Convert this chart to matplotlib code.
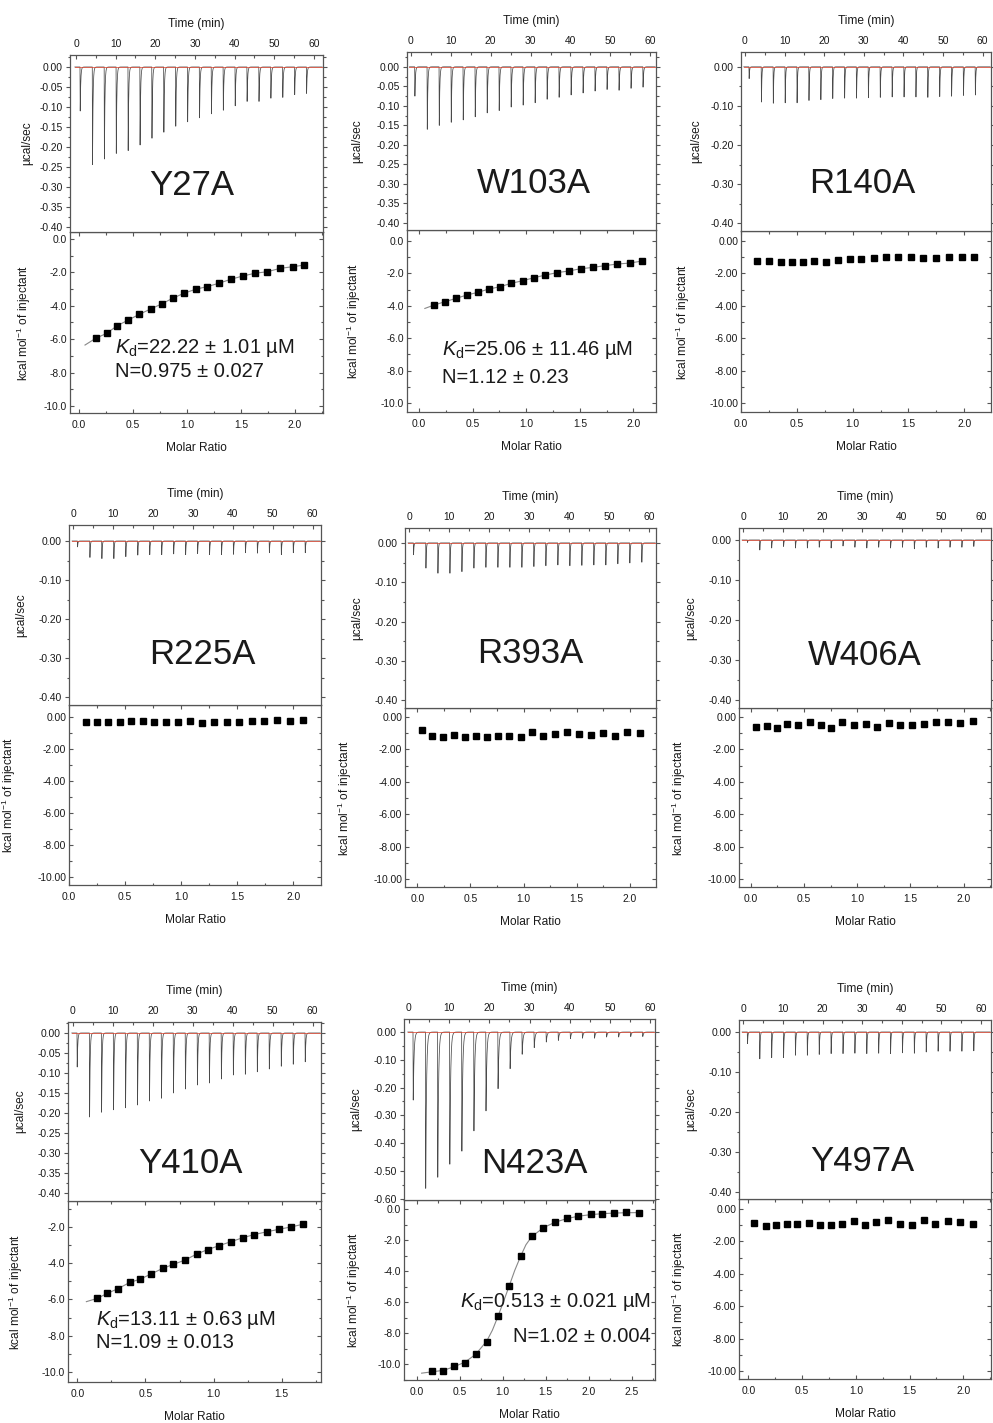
import numpy as np
import matplotlib
matplotlib.use('Agg')
import matplotlib.pyplot as plt
from matplotlib.ticker import MultipleLocator, FormatStrFormatter

plt.rcParams['font.family'] = ['Liberation Sans', 'DejaVu Sans']
plt.rcParams['axes.unicode_minus'] = False
plt.rcParams['mathtext.fontset'] = 'custom'
plt.rcParams['mathtext.rm'] = 'Liberation Sans'
plt.rcParams['mathtext.it'] = 'Liberation Sans:italic'
plt.rcParams['mathtext.default'] = 'regular'

# ---------------- data ----------------
mutants = ['Y27A', 'W103A', 'R140A', 'R225A', 'R393A', 'W406A', 'Y410A', 'N423A', 'Y497A']

injection_times = [1.0, 4.1, 7.1, 10.1, 13.1, 16.1, 19.1, 22.1, 25.1, 28.1,
                   31.1, 34.1, 37.1, 40.1, 43.1, 46.1, 49.1, 52.1, 55.1, 58.1]

# raw thermogram peak depths (ucal/sec)
y27a_peaks = [-0.110, -0.244, -0.230, -0.216, -0.209, -0.195, -0.178, -0.163, -0.148, -0.137,
              -0.127, -0.117, -0.108, -0.097, -0.086, -0.086, -0.078, -0.076, -0.069, -0.066]
w103a_peaks = [-0.075, -0.160, -0.150, -0.142, -0.136, -0.128, -0.118, -0.112, -0.103, -0.098,
               -0.092, -0.083, -0.078, -0.072, -0.067, -0.062, -0.058, -0.060, -0.055, -0.052]
r140a_peaks = [-0.030, -0.090, -0.093, -0.092, -0.092, -0.086, -0.084, -0.081, -0.080, -0.080,
               -0.079, -0.078, -0.077, -0.077, -0.077, -0.078, -0.076, -0.075, -0.073, -0.072]
r225a_peaks = [-0.015, -0.042, -0.045, -0.045, -0.040, -0.036, -0.035, -0.035, -0.033, -0.035,
               -0.032, -0.035, -0.035, -0.034, -0.030, -0.031, -0.030, -0.035, -0.030, -0.030]
r393a_peaks = [-0.030, -0.064, -0.077, -0.077, -0.073, -0.064, -0.062, -0.062, -0.062, -0.062,
               -0.060, -0.058, -0.056, -0.058, -0.057, -0.056, -0.056, -0.053, -0.051, -0.049]
w406a_peaks = [-0.006, -0.025, -0.020, -0.016, -0.020, -0.020, -0.018, -0.020, -0.015, -0.018,
               -0.020, -0.018, -0.020, -0.018, -0.022, -0.018, -0.020, -0.018, -0.018, -0.016]
y410a_peaks = [-0.085, -0.210, -0.198, -0.192, -0.187, -0.180, -0.170, -0.163, -0.150, -0.140,
               -0.130, -0.125, -0.115, -0.105, -0.103, -0.097, -0.090, -0.083, -0.078, -0.072]
n423a_peaks = [-0.245, -0.563, -0.523, -0.476, -0.429, -0.356, -0.284, -0.204, -0.132, -0.080,
               -0.056, -0.036, -0.030, -0.024, -0.022, -0.022, -0.018, -0.018, -0.016, -0.016]
y497a_peaks = [-0.029, -0.067, -0.064, -0.064, -0.058, -0.058, -0.056, -0.054, -0.054, -0.053,
               -0.054, -0.053, -0.054, -0.052, -0.053, -0.050, -0.048, -0.048, -0.048, -0.047]

# integrated heats (kcal/mol of injectant) vs molar ratio
y27a_ratio = [0.154, 0.256, 0.355, 0.457, 0.559, 0.664, 0.765, 0.867, 0.972, 1.080,
              1.188, 1.296, 1.407, 1.515, 1.630, 1.744, 1.861, 1.978, 2.086]
y27a_heat = [-5.95, -5.65, -5.19, -4.85, -4.51, -4.19, -3.89, -3.55, -3.25, -3.01,
             -2.85, -2.65, -2.41, -2.22, -2.05, -1.96, -1.76, -1.66, -1.56]
y27a_fit_x = [0.056] + y27a_ratio
y27a_fit_y = [-6.35] + y27a_heat

w103a_ratio = [0.140, 0.244, 0.344, 0.447, 0.547, 0.653, 0.756, 0.859, 0.966, 1.075,
               1.178, 1.288, 1.397, 1.506, 1.622, 1.731, 1.850, 1.966, 2.084]
w103a_heat = [-3.95, -3.74, -3.54, -3.33, -3.17, -2.96, -2.82, -2.61, -2.45, -2.26,
              -2.10, -1.95, -1.85, -1.71, -1.63, -1.52, -1.42, -1.36, -1.23]
w103a_fit_x = [0.054] + w103a_ratio
w103a_fit_y = [-4.16] + w103a_heat

r140a_ratio = [0.146, 0.250, 0.354, 0.455, 0.557, 0.655, 0.765, 0.869, 0.973, 1.077,
               1.190, 1.300, 1.408, 1.524, 1.634, 1.747, 1.866, 1.976, 2.089]
r140a_heat = [-1.21, -1.21, -1.30, -1.28, -1.28, -1.21, -1.28, -1.17, -1.13, -1.13,
              -1.03, -0.97, -0.97, -0.97, -1.03, -1.07, -0.97, -0.97, -1.00]

r225a_ratio = [0.152, 0.253, 0.350, 0.455, 0.554, 0.658, 0.759, 0.866, 0.976, 1.080,
               1.185, 1.295, 1.410, 1.520, 1.630, 1.740, 1.855, 1.970, 2.086]
r225a_heat = [-0.30, -0.30, -0.32, -0.32, -0.25, -0.28, -0.32, -0.33, -0.33, -0.27,
              -0.37, -0.32, -0.32, -0.30, -0.28, -0.25, -0.20, -0.25, -0.20]

r393a_ratio = [0.047, 0.141, 0.245, 0.345, 0.448, 0.549, 0.652, 0.762, 0.865, 0.972,
               1.075, 1.185, 1.298, 1.404, 1.517, 1.630, 1.743, 1.859, 1.975, 2.094]
r393a_heat = [-0.83, -1.20, -1.24, -1.12, -1.26, -1.14, -1.26, -1.16, -1.14, -1.26,
              -0.93, -1.16, -1.05, -0.93, -1.05, -1.09, -0.99, -1.16, -0.93, -1.01]

w406a_ratio = [0.050, 0.150, 0.250, 0.346, 0.446, 0.555, 0.658, 0.758, 0.861, 0.970,
               1.080, 1.189, 1.298, 1.401, 1.513, 1.626, 1.741, 1.853, 1.969, 2.084]
w406a_heat = [-0.62, -0.54, -0.68, -0.41, -0.48, -0.31, -0.48, -0.68, -0.33, -0.50,
              -0.43, -0.62, -0.37, -0.48, -0.52, -0.43, -0.31, -0.33, -0.37, -0.27]

y410a_ratio = [0.145, 0.218, 0.299, 0.385, 0.461, 0.539, 0.625, 0.703, 0.789, 0.875,
               0.956, 1.042, 1.125, 1.213, 1.299, 1.390, 1.480, 1.569, 1.659]
y410a_heat = [-5.94, -5.67, -5.40, -5.06, -4.88, -4.60, -4.29, -4.07, -3.83, -3.50,
              -3.25, -3.03, -2.82, -2.60, -2.42, -2.27, -2.13, -2.00, -1.85]
y410a_fit_x = [0.066] + y410a_ratio
y410a_fit_y = [-6.12] + y410a_heat

n423a_ratio = [0.182, 0.310, 0.434, 0.562, 0.686, 0.814, 0.942, 1.074, 1.209, 1.337,
               1.473, 1.609, 1.744, 1.880, 2.027, 2.159, 2.298, 2.434, 2.589]
n423a_heat = [-10.45, -10.41, -10.11, -9.89, -9.35, -8.56, -6.90, -4.97, -3.03, -1.74,
              -1.25, -0.82, -0.60, -0.43, -0.32, -0.32, -0.24, -0.22, -0.24]
n423a_fit_x = [0.058, 0.182, 0.310, 0.434, 0.562, 0.686, 0.814, 0.88, 0.942, 1.01, 1.074,
               1.14, 1.209, 1.27, 1.337, 1.473, 1.609, 1.744, 1.880, 2.027, 2.159, 2.298, 2.434, 2.589]
n423a_fit_y = [-10.56, -10.47, -10.38, -10.15, -9.85, -9.35, -8.50, -7.80, -6.95, -5.95, -4.97,
               -3.95, -3.03, -2.30, -1.78, -1.20, -0.85, -0.62, -0.46, -0.36, -0.30, -0.26, -0.24, -0.23]

y497a_ratio = [0.056, 0.164, 0.257, 0.355, 0.457, 0.563, 0.665, 0.767, 0.872, 0.980,
               1.082, 1.190, 1.300, 1.406, 1.520, 1.632, 1.740, 1.858, 1.972, 2.087]
y497a_heat = [-0.87, -1.03, -0.97, -0.91, -0.93, -0.87, -1.01, -0.97, -0.91, -0.76,
              -0.97, -0.80, -0.70, -0.91, -0.97, -0.70, -0.93, -0.76, -0.80, -0.91]

y27a_text = [r'$\mathit{K}_\mathrm{d}$=22.22 ± 1.01 µM', 'N=0.975 ± 0.027']
w103a_text = [r'$\mathit{K}_\mathrm{d}$=25.06 ± 11.46 µM', 'N=1.12 ± 0.23']
y410a_text = [r'$\mathit{K}_\mathrm{d}$=13.11 ± 0.63 µM', 'N=1.09 ± 0.013']
n423a_text = [r'$\mathit{K}_\mathrm{d}$=0.513 ± 0.021 µM', 'N=1.02 ± 0.004']

# ---------------- layout / style ----------------
W, H = 993, 1423
fig = plt.figure(figsize=(W / 100, H / 100), dpi=100)

panels = [
    dict(peaks=y27a_peaks, ratio=y27a_ratio, heat=y27a_heat, fx=y27a_fit_x, fy=y27a_fit_y, txt=y27a_text),
    dict(peaks=w103a_peaks, ratio=w103a_ratio, heat=w103a_heat, fx=w103a_fit_x, fy=w103a_fit_y, txt=w103a_text),
    dict(peaks=r140a_peaks, ratio=r140a_ratio, heat=r140a_heat, fx=None, fy=None, txt=None),
    dict(peaks=r225a_peaks, ratio=r225a_ratio, heat=r225a_heat, fx=None, fy=None, txt=None),
    dict(peaks=r393a_peaks, ratio=r393a_ratio, heat=r393a_heat, fx=None, fy=None, txt=None),
    dict(peaks=w406a_peaks, ratio=w406a_ratio, heat=w406a_heat, fx=None, fy=None, txt=None),
    dict(peaks=y410a_peaks, ratio=y410a_ratio, heat=y410a_heat, fx=y410a_fit_x, fy=y410a_fit_y, txt=y410a_text),
    dict(peaks=n423a_peaks, ratio=n423a_ratio, heat=n423a_heat, fx=n423a_fit_x, fy=n423a_fit_y, txt=n423a_text),
    dict(peaks=y497a_peaks, ratio=y497a_ratio, heat=y497a_heat, fx=None, fy=None, txt=None),
]

# pixel boxes: left, right, top, mid, bottom
boxes = [
    (70, 323, 55, 232, 413), (407, 656, 52, 230, 412), (741, 991, 52, 231, 412),
    (69, 321, 525, 705, 885), (405, 656, 528, 708, 887), (739, 991, 528, 708, 887),
    (68, 321, 1022, 1201, 1382), (404, 655, 1019, 1200, 1380), (739, 991, 1020, 1199, 1379),
]
time_lims = [(-1.52, 62.3), (-0.92, 61.4), (-1.0, 62.1), (-1.09, 62.1), (-1.08, 61.7),
             (-1.09, 62.5), (-1.25, 62.1), (-1.24, 61.2), (-1.09, 62.5)]
top_ylims = [(-0.4125, 0.03), (-0.418, 0.038), (-0.42, 0.038), (-0.42, 0.041), (-0.42, 0.038),
             (-0.42, 0.03), (-0.42, 0.0275), (-0.605, 0.047), (-0.4175, 0.03)]
top_major = [0.05, 0.05, 0.1, 0.1, 0.1, 0.1, 0.05, 0.1, 0.1]
ratio_lims = [(-0.083, 2.26), (-0.1125, 2.21), (0.0, 2.24), (0.0, 2.247), (-0.116, 2.245),
              (-0.109, 2.256), (-0.069, 1.789), (-0.147, 2.77), (-0.087, 2.257)]
bot_ylims = [(-10.42, 0.42), (-10.55, 0.68), (-10.56, 0.62), (-10.5, 0.75), (-10.5, 0.56),
             (-10.5, 0.56), (-10.55, -0.57), (-11.0, 0.58), (-10.5, 0.62)]
bot_fmt = ['%.1f', '%.1f', '%.2f', '%.2f', '%.2f', '%.2f', '%.1f', '%.1f', '%.2f']
name_pos = [(0.48, 0.265), (0.51, 0.264), (0.486, 0.264), (0.53, 0.278), (0.498, 0.305),
            (0.498, 0.294), (0.482, 0.212), (0.52, 0.204), (0.489, 0.207)]
# distance (px) from the axes' left edge to the centre of the y labels
ulabel_off = [42, 49, 44, 47, 47, 47, 47, 47, 47]
klabel_off = [42, 49, 54, 56, 56, 56, 48, 46, 56]
peak_tau = [0.13, 0.13, 0.1, 0.1, 0.1, 0.1, 0.13, 0.2, 0.1]
# annotation: (x, y of line1, y of line2, ha)
text_pos = [(0.33, -6.5, -7.95, 'left'), (0.21, -6.7, -8.4, 'left'), None, None, None, None,
            (0.14, -7.13, -8.39, 'left'), (2.72, -6.0, -8.2, 'right'), None]

INK = '#1a1a1a'
SPINE = '#555555'
TICKFS = 7.4
LABFS = 8.6
NAMEFS = 25
ANNFS = 14.5


def style_axis(ax):
    for s in ax.spines.values():
        s.set_color(SPINE)
        s.set_linewidth(0.9)
    ax.tick_params(which='both', colors=SPINE, labelcolor=INK, labelsize=TICKFS, width=0.8)
    ax.tick_params(which='major', length=3.0, pad=2)
    ax.tick_params(which='minor', length=1.8)


for i, p in enumerate(panels):
    l, r, t, m, b = boxes[i]
    w = r - l
    ax1 = fig.add_axes([l / W, 1 - m / H, w / W, (m - t) / H])
    ax2 = fig.add_axes([l / W, 1 - b / H, w / W, (b - m) / H])

    # ---- thermogram ----
    tt = np.arange(-0.3, time_lims[i][1] - 0.2, 0.01)
    sig = np.zeros_like(tt)
    tau = peak_tau[i]
    for t0, d in zip(injection_times, p['peaks']):
        dt = tt - t0
        rise = (dt >= 0) & (dt < 0.06)
        sig[rise] += d * dt[rise] / 0.06
        dec = dt >= 0.06
        sig[dec] += d * np.exp(-(dt[dec] - 0.06) / tau)
    ax1.plot(tt, sig, color='#4a4a4a', lw=0.55, zorder=2)
    ax1.plot([tt[0], tt[-1]], [0, 0], color='#e0452f', lw=0.7, alpha=0.75, zorder=3)
    ax1.set_xlim(*time_lims[i])
    ax1.set_ylim(*top_ylims[i])
    style_axis(ax1)
    ax1.xaxis.set_major_locator(MultipleLocator(10))
    ax1.xaxis.set_minor_locator(MultipleLocator(5))
    ax1.yaxis.set_major_locator(MultipleLocator(top_major[i]))
    ax1.yaxis.set_minor_locator(MultipleLocator(top_major[i] / 2))
    ax1.yaxis.set_major_formatter(FormatStrFormatter('%.2f'))
    ax1.tick_params(axis='x', which='both', top=True, bottom=False, labeltop=True,
                    labelbottom=False, direction='in')
    ax1.tick_params(axis='x', which='major', pad=4)
    ax1.tick_params(axis='y', which='both', right=True, direction='in')
    ax1.tick_params(axis='y', which='both', left=True, direction='out')
    ax1.set_xlabel('Time (min)', fontsize=LABFS, color=INK)
    ax1.xaxis.set_label_position('top')
    ax1.xaxis.set_label_coords(0.5, 1 + 28 / (m - t))
    ax1.set_ylabel('µcal/sec', fontsize=LABFS, color=INK)
    ax1.yaxis.set_label_coords(-(ulabel_off[i] - 5) / w, 0.5)
    ax1.text(name_pos[i][0], name_pos[i][1], mutants[i], transform=ax1.transAxes,
             fontsize=NAMEFS, color=INK, ha='center', va='center')

    # ---- isotherm ----
    if p['fx'] is not None:
        ax2.plot(p['fx'], p['fy'], color='#888888', lw=0.8, zorder=2)
        ms = 4.2
    else:
        ms = 4.6
    ax2.plot(p['ratio'], p['heat'], 's', color='black', ms=ms, zorder=3)
    ax2.set_xlim(*ratio_lims[i])
    ax2.set_ylim(*bot_ylims[i])
    style_axis(ax2)
    ax2.xaxis.set_major_locator(MultipleLocator(0.5))
    ax2.xaxis.set_minor_locator(MultipleLocator(0.25))
    ax2.yaxis.set_major_locator(MultipleLocator(2))
    ax2.yaxis.set_minor_locator(MultipleLocator(1))
    ax2.xaxis.set_major_formatter(FormatStrFormatter('%.1f'))
    ax2.yaxis.set_major_formatter(FormatStrFormatter(bot_fmt[i]))
    ax2.tick_params(axis='x', which='both', bottom=True, direction='out')
    ax2.tick_params(axis='x', which='major', pad=5)
    ax2.tick_params(axis='x', which='both', top=True, direction='in')
    ax2.tick_params(axis='y', which='both', left=True, direction='out')
    ax2.tick_params(axis='y', which='both', right=True, direction='in')
    ax2.set_xlabel('Molar Ratio', fontsize=LABFS, color=INK)
    ax2.xaxis.set_label_coords(0.5, -29 / (b - m))
    ax2.set_ylabel(r'kcal mol$^{-1}$ of injectant', fontsize=LABFS, color=INK)
    ax2.yaxis.set_label_coords(-(klabel_off[i] - 5) / w, 0.5)
    if p['txt'] is not None:
        x0, y1, y2, ha = text_pos[i]
        ax2.text(x0, y1, p['txt'][0], fontsize=ANNFS, color=INK, ha=ha, va='center', zorder=4)
        ax2.text(x0, y2, p['txt'][1], fontsize=ANNFS, color=INK, ha=ha, va='center', zorder=4)
    ax1.set_zorder(2)

fig.savefig('out.png', dpi=100, facecolor='white')
